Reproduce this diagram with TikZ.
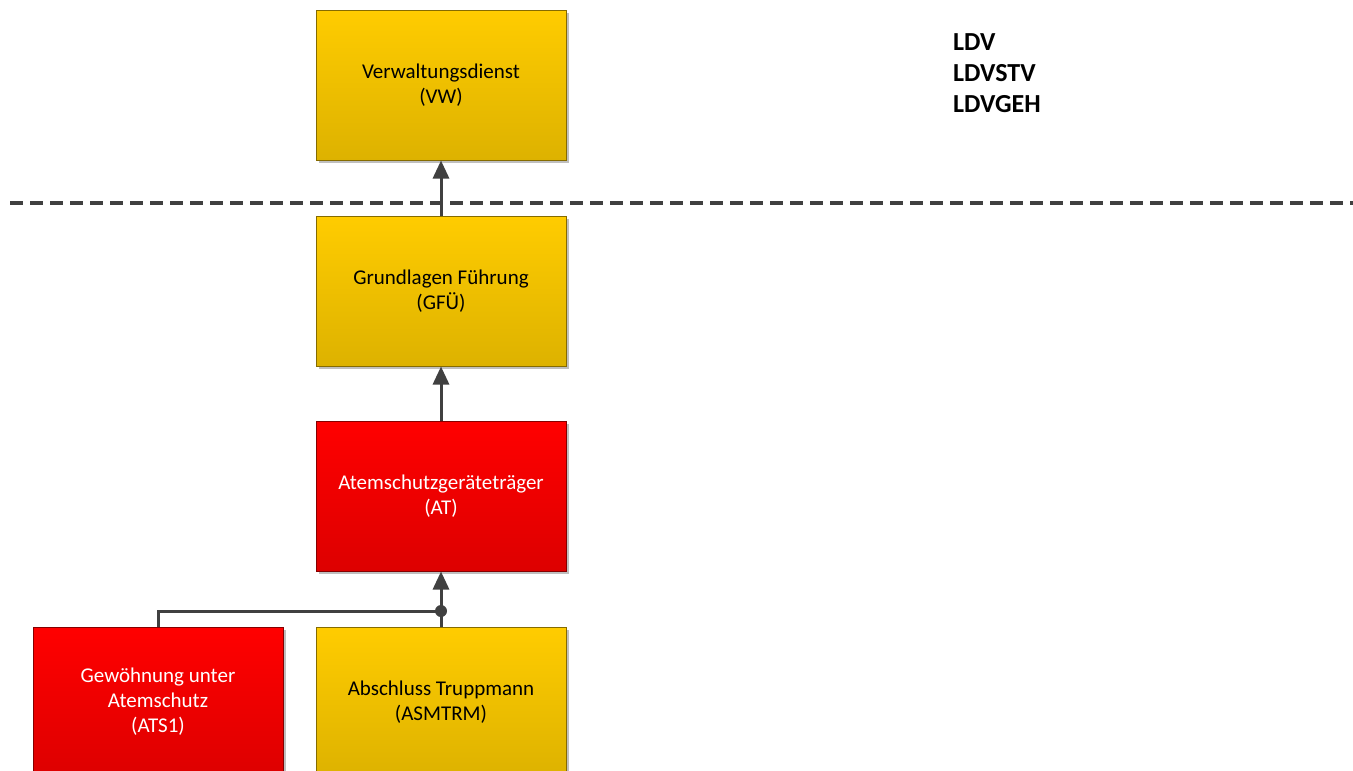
\documentclass[tikz,border=0pt]{standalone}
\usepackage{fontspec}
\setmainfont{Carlito}
\usetikzlibrary{arrows.meta,shadows}
\definecolor{ytop}{HTML}{FFCC00}
\definecolor{ybot}{HTML}{DDB200}
\definecolor{rtop}{HTML}{FF0000}
\definecolor{rbot}{HTML}{DD0000}
\definecolor{lin}{HTML}{404040}
\tikzset{
  box/.style={draw=#1, line width=1pt, minimum width=250pt, minimum height=150pt, align=center,
    font=\fontsize{21}{25}\selectfont, inner sep=0pt,
    drop shadow={shadow xshift=2.5pt, shadow yshift=-2.5pt, opacity=0.25, fill=black}},
  ybox/.style={box=ybot!60!black, top color=ytop, bottom color=ybot, text=black},
  rbox/.style={box=rbot!60!black, top color=rtop, bottom color=rbot, text=white},
  conn/.style={draw=lin, line width=3pt},
  arr/.style={conn, -{Triangle[width=16pt,length=18pt]}},
  lbl/.style={anchor=west, font=\fontsize{26}{31}\selectfont\bfseries, inner sep=0pt}
}
\begin{document}
\begin{tikzpicture}[x=1pt,y=-1pt]
\useasboundingbox (0,0) rectangle (1353,771);
\clip (0,0) rectangle (1353,771);
\fill[white] (0,0) rectangle (1353,771);
\draw[lin, line width=3.5pt, dash pattern=on 13pt off 7pt] (10,203) -- (1353,203);
\node[ybox] (vw) at (441,85) {Verwaltungsdienst\\(VW)};
\node[ybox] (gfu) at (441,291) {Grundlagen Führung\\(GFÜ)};
\node[rbox] (at) at (441,496) {Atemschutzgeräteträger\\(AT)};
\node[rbox] (ats) at (158,702) {Gewöhnung unter\\Atemschutz\\(ATS1)};
\node[ybox] (asm) at (441,702) {Abschluss Truppmann\\(ASMTRM)};
\coordinate (j) at (441,611);
\draw[arr] (gfu.north) -- (vw.south);
\draw[arr] (at.north) -- (gfu.south);
\draw[conn] (asm.north) -- (j);
\draw[conn] (ats.north) |- (j);
\draw[arr] (j) -- (at.south);
\fill[lin] (j) circle (6pt);
\node[lbl] (l1) at (953,42) {LDV};
\node[lbl] (l2) at (953,73) {LDVSTV};
\node[lbl] (l3) at (953,104) {LDVGEH};
\end{tikzpicture}
\end{document}
